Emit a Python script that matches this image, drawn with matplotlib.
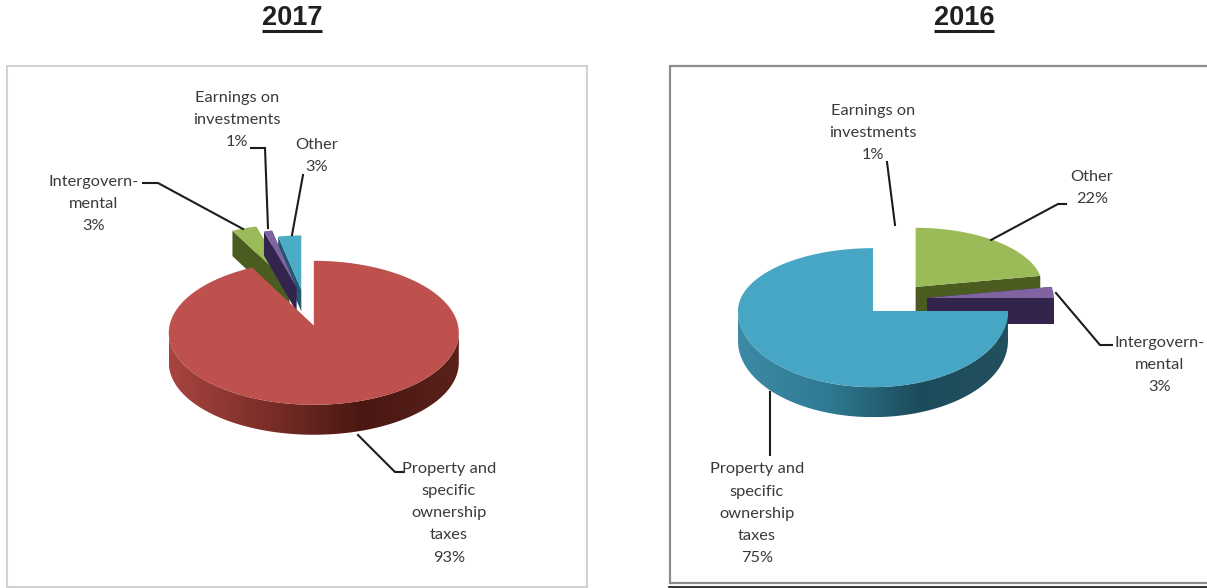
import numpy as np
import matplotlib
matplotlib.use('Agg')
import matplotlib.pyplot as plt
from matplotlib.colors import LinearSegmentedColormap
from matplotlib.patches import PathPatch, Polygon, Rectangle
from matplotlib.path import Path

# share of revenue, in drawing order round each pie
labels_2017 = ['Property and\nspecific\nownership\ntaxes', 'Intergovern-\nmental', 'Earnings on\ninvestments', 'Other']
values_2017 = [93, 3, 1, 3]
labels_2016 = ['Earnings on\ninvestments', 'Other', 'Intergovern-\nmental', 'Property and\nspecific\nownership\ntaxes']
values_2016 = [1, 22, 3, 75]

plt.rcParams['font.family'] = ['Lato', 'DejaVu Sans']

RED = '#BE504D'
GREEN = '#9BBB59'
PURPLE = '#8064A2'
AQUA = '#4BACC6'
SKY = '#47A6C4'
DARK_GREEN = '#4A5C20'
DARK_PURPLE = '#33244E'
DARK_AQUA = '#1F5A6E'
TEXT = '#3A3A3A'
LINE = '#1C1C1C'

red_wall = LinearSegmentedColormap.from_list('red_wall', ['#A8443F', '#7C2E2A', '#4A1712', '#5A211B'])
sky_wall = LinearSegmentedColormap.from_list('sky_wall', ['#3D8AA6', '#2F7A93', '#1C4C5C', '#23505F'])


def ellipse_xy(cx, cy, a, b, angles, squash=0.0):
    # the far half of the rim is flatter than the near half by the squash factor
    rad = np.radians(angles)
    c = np.cos(rad)
    return cx + a * np.sin(rad), cy - b * c * (1 - squash * np.sign(c))


def draw_pie(ax, values, start, center, a, b, depth, explode, radii, colors, walls, wall_cmap, order, lift, squash):
    # angles run clockwise from 12 o'clock, one percent is 3.6 degrees
    edges = start + np.cumsum([0] + list(values)) * 3.6
    for i in order:
        t0, t1 = edges[i], edges[i + 1]
        mid = (t0 + t1) / 2
        apex_x, apex_y = ellipse_xy(center[0], center[1], a * explode[i], b * explode[i], mid)
        r = radii[i]
        d = depth * r ** 2
        arc_x, arc_y = ellipse_xy(apex_x, apex_y + lift, a * r, b * r, np.linspace(t0, t1, 200), squash)

        # cut faces of the slice
        for k in (0, -1):
            face = [(apex_x, apex_y), (arc_x[k], arc_y[k]), (arc_x[k], arc_y[k] + d), (apex_x, apex_y + d)]
            ax.add_patch(Polygon(face, closed=True, fc=walls[i], ec='none', zorder=3))

        # curved wall, only the part that faces the viewer
        lo, hi = max(t0, 90), min(t1, 270)
        if hi > lo:
            fx, fy = ellipse_xy(apex_x, apex_y + lift, a * r, b * r, np.linspace(lo, hi, 200), squash)
            verts = np.vstack([np.column_stack([fx, fy]), np.column_stack([fx, fy + d])[::-1]])
            clip = PathPatch(Path(verts), transform=ax.transData, fc='none', ec='none')
            ax.add_patch(clip)
            grad = np.linspace(0, 1, 256).reshape(1, -1)
            img = ax.imshow(grad, cmap=wall_cmap, aspect='auto', zorder=3,
                            extent=(fx.min(), fx.max(), fy.max() + d, fy.min()))
            img.set_clip_path(clip)

        top = np.vstack([[apex_x, apex_y], np.column_stack([arc_x, arc_y])])
        ax.add_patch(Polygon(top, closed=True, fc=colors[i], ec='none', zorder=3))


fig = plt.figure(figsize=(12.07, 5.88), dpi=100)
ax = fig.add_axes([0, 0, 1, 1])
ax.axis('off')

# chart frames
ax.add_patch(Rectangle((7, 65.5), 580, 521, fc='white', ec='#D2D2D2', lw=1.5, zorder=1))
ax.add_patch(Rectangle((670, 66), 560, 517, fc='white', ec='#8C8C8C', lw=1.6, zorder=1))
ax.plot([669, 1207], [587, 587], color='#111111', lw=1.2, zorder=1)

# 2017
draw_pie(ax, values_2017, 0, (304, 304), 145, 72, 30, [0.31, 0.30, 0.24, 0.20],
         [1.0, 0.92, 0.9, 0.85],
         [RED, GREEN, PURPLE, AQUA], [RED, DARK_GREEN, DARK_PURPLE, DARK_AQUA], red_wall, [3, 1, 2, 0],
         lift=7, squash=0.0)

# 2016, the smallest slice is left white in the gap
draw_pie(ax, values_2016, -3.6, (895.4, 299.5), 135, 69.5, 30, [0.235, 0.235, 0.235, 0.235],
         [0.9, 0.94, 0.94, 1.0],
         ['white', GREEN, PURPLE, SKY], ['white', DARK_GREEN, DARK_PURPLE, SKY], sky_wall, [0, 1, 2, 3],
         lift=0, squash=0.095)

# leader lines
leaders = [
    [(251, 148), (265, 148), (268, 228)],
    [(303, 175), (292, 235)],
    [(143, 183), (158, 183), (243, 229)],
    [(358, 435), (395, 472), (403, 472)],
    [(887, 162), (895, 225)],
    [(1066, 204), (1058, 204), (991, 240)],
    [(1056, 293), (1100, 345), (1112, 345)],
    [(770, 392), (770, 455)],
]
for pts in leaders:
    xs, ys = zip(*pts)
    ax.plot(xs, ys, color=LINE, lw=1.5, zorder=4, solid_joinstyle='miter')

# data labels, centred on the given points
spots_2017 = [(449, 513), (94, 204), (237, 120), (317, 156)]
spots_2016 = [(873, 133), (1092, 188), (1160, 365), (757, 514)]
for names, vals, spots in [(labels_2017, values_2017, spots_2017), (labels_2016, values_2016, spots_2016)]:
    for name, val, (x, y) in zip(names, vals, spots):
        ax.text(x, y, '{}\n{}%'.format(name, val), ha='center', va='center', color=TEXT,
                fontsize=11.8, linespacing=1.75, zorder=5)

# panel titles
for x, year, half in [(292, '2017', 30), (964, '2016', 30)]:
    ax.text(x, 18, year, ha='center', va='center', fontsize=19.5, fontweight='bold',
            family='Liberation Sans', color='#231F20')
    ax.plot([x - half, x + half], [31, 31], color='#231F20', lw=2.2, solid_capstyle='butt')

ax.set_xlim(0, 1207)
ax.set_ylim(588, 0)
fig.savefig('out.png', dpi=100)
